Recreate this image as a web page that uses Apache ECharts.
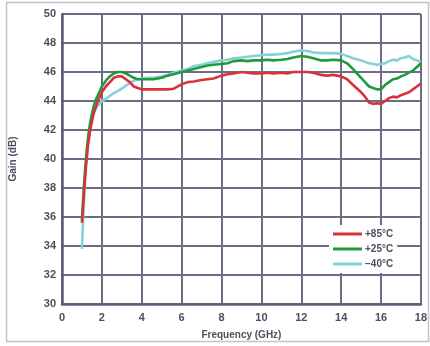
<!DOCTYPE html>
<html>
<head>
<meta charset="utf-8">
<script src="https://cdn.jsdelivr.net/npm/echarts@6/dist/echarts.min.js"></script>
<style>
  html, body { margin: 0; padding: 0; background: #ffffff; }
  #chart { width: 430px; height: 346px; }
</style>
</head>
<body>
<div id="chart"></div>
<script>
// Frequency sweep points (GHz), shared by all temperature traces
const freqGHz = [1.0,1.05,1.1,1.15,1.2,1.3,1.4,1.5,1.6,1.7,1.8,2.0,2.2,2.4,2.6,2.8,3.0,3.2,3.4,3.6,3.8,4.0,4.3,4.6,5.0,5.3,5.6,6.0,6.3,6.6,7.0,7.3,7.6,8.0,8.3,8.6,9.0,9.3,9.6,10.0,10.3,10.6,11.0,11.3,11.6,12.0,12.3,12.6,13.0,13.3,13.6,14.0,14.3,14.6,15.0,15.2,15.4,15.6,15.8,16.0,16.2,16.4,16.6,16.8,17.0,17.2,17.4,17.6,17.8,18.0];

// Gain (dB) at +85 °C
const gainHot = [35.6,36.6,37.6,38.6,39.5,40.9,41.9,42.6,43.2,43.6,44.0,44.6,45.0,45.3,45.6,45.7,45.7,45.5,45.3,45.0,44.9,44.8,44.8,44.8,44.8,44.8,44.85,45.15,45.3,45.35,45.45,45.5,45.55,45.75,45.85,45.9,46.0,45.95,45.9,45.9,45.95,45.9,45.95,45.9,46.0,46.0,46.0,45.95,45.8,45.75,45.8,45.7,45.5,45.1,44.6,44.3,43.9,43.8,43.85,43.8,44.0,44.2,44.3,44.25,44.4,44.5,44.6,44.8,45.0,45.2];

// Gain (dB) at +25 °C
const gainRoom = [35.8,37.0,38.1,39.1,40.0,41.4,42.4,43.1,43.7,44.1,44.4,45.0,45.4,45.7,45.9,46.0,46.0,45.9,45.75,45.6,45.5,45.5,45.5,45.5,45.6,45.75,45.85,46.0,46.1,46.2,46.35,46.45,46.5,46.55,46.6,46.75,46.8,46.75,46.8,46.8,46.85,46.8,46.85,46.9,47.0,47.1,47.05,46.95,46.8,46.8,46.85,46.8,46.6,46.2,45.6,45.3,45.0,44.9,44.8,44.8,45.1,45.3,45.5,45.55,45.7,45.8,45.95,46.1,46.35,46.6];

// Gain (dB) at -40 °C
const gainCold = [33.8,35.5,37.0,38.3,39.4,41.0,42.0,42.7,43.2,43.5,43.7,44.0,44.15,44.35,44.55,44.7,44.85,45.05,45.25,45.4,45.5,45.55,45.6,45.6,45.7,45.8,45.95,46.1,46.2,46.4,46.5,46.6,46.7,46.8,46.85,46.95,47.0,47.05,47.1,47.15,47.2,47.2,47.25,47.3,47.4,47.5,47.45,47.35,47.3,47.3,47.3,47.25,47.1,46.95,46.8,46.7,46.6,46.55,46.5,46.55,46.6,46.75,46.85,46.8,46.95,47.0,47.1,46.9,46.8,46.7];

const seriesNames = ['+85°C', '+25°C', '\u221240°C'];
const seriesColors = ['#d8333b', '#1f9a3c', '#86d0d8'];

const pairs = vals => freqGHz.map((f, i) => [f, vals[i]]);

const gridColor = '#6a6e85';
const labelFont = { fontFamily: 'Liberation Sans, Arial, sans-serif', fontWeight: 'bold', color: '#4d4f5e' };

const chart = echarts.init(document.getElementById('chart'), null, { renderer: 'canvas' });

const lineSeries = (name, color, vals, z) => ({
  name: name,
  type: 'line',
  data: pairs(vals),
  showSymbol: false,
  symbol: 'none',
  smooth: false,
  z: z,
  lineStyle: { color: color, width: 2.6 },
  itemStyle: { color: color },
  emphasis: { disabled: true }
});

chart.setOption({
  animation: false,
  backgroundColor: '#ffffff',
  graphic: [{
    type: 'rect',
    shape: { x: 6.5, y: 2.5, width: 422, height: 339 },
    style: { fill: 'none', stroke: '#c4c4c8', lineWidth: 1.5 },
    silent: true,
    z: -10
  }],
  grid: { left: 60, right: 8, top: 14, bottom: 42, containLabel: false },
  xAxis: {
    type: 'value',
    min: 0, max: 18, interval: 2,
    name: 'Frequency (GHz)',
    nameLocation: 'middle',
    nameGap: 26,
    nameTextStyle: Object.assign({ fontSize: 10 }, labelFont),
    axisLine: { show: true, lineStyle: { color: '#5a5e75', width: 2.5 } },
    axisTick: { show: false },
    axisLabel: Object.assign({ fontSize: 11, margin: 8 }, labelFont),
    splitLine: { show: true, lineStyle: { color: gridColor, width: 2 } }
  },
  yAxis: {
    type: 'value',
    min: 30, max: 50, interval: 2,
    name: 'Gain (dB)',
    nameLocation: 'middle',
    nameGap: 44,
    nameRotate: 90,
    nameTextStyle: Object.assign({ fontSize: 10 }, labelFont),
    axisLine: { show: true, lineStyle: { color: '#5a5e75', width: 2.5 } },
    axisTick: { show: false },
    axisLabel: Object.assign({ fontSize: 11, margin: 6 }, labelFont),
    splitLine: { show: true, lineStyle: { color: gridColor, width: 2 } }
  },
  legend: {
    data: seriesNames,
    orient: 'vertical',
    left: 329,
    top: 225,
    padding: [4, 4, 4, 4],
    itemGap: 5,
    itemWidth: 29,
    itemHeight: 3,
    icon: 'rect',
    backgroundColor: '#ffffff',
    textStyle: Object.assign({ fontSize: 10, padding: [0, 0, 0, -2] }, labelFont)
  },
  series: [
    lineSeries(seriesNames[2], seriesColors[2], gainCold, 2),
    lineSeries(seriesNames[1], seriesColors[1], gainRoom, 3),
    lineSeries(seriesNames[0], seriesColors[0], gainHot, 4)
  ]
});
</script>
</body>
</html>
